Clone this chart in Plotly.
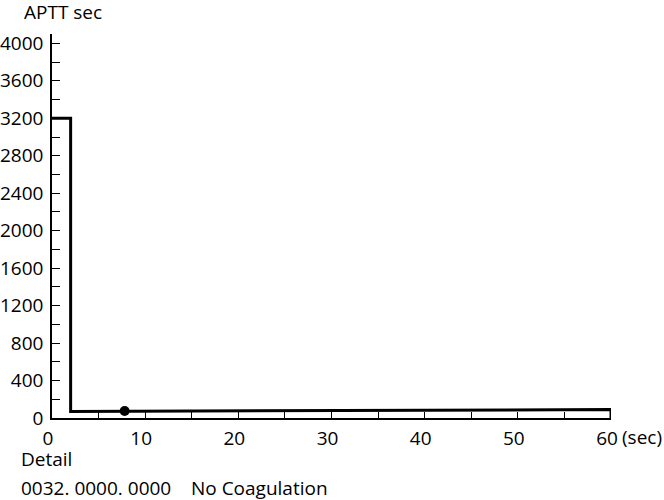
import plotly.graph_objects as go

FONT = "Open Sans, Noto Sans, sans-serif"

# curve (time in sec, APTT value)
curve_t = [0, 2, 2, 60, 60]
curve_v = [3200, 3200, 70, 90, 0]

point_t = [7.8]
point_v = [75]

y_ticks = [0, 400, 800, 1200, 1600, 2000, 2400, 2800, 3200, 3600, 4000]
x_ticks = [0, 10, 20, 30, 40, 50, 60]

W, H = 664, 500
L, R, T, B = 52, 53, 34, 82

fig = go.Figure()
fig.add_trace(
    go.Scatter(
        x=curve_t,
        y=curve_v,
        mode="lines",
        line={"color": "black", "width": 3},
        cliponaxis=False,
        hoverinfo="skip",
    )
)
fig.add_trace(
    go.Scatter(
        x=point_t,
        y=point_v,
        mode="markers",
        marker={"color": "black", "size": 10},
        cliponaxis=False,
    )
)

fig.update_layout(
    width=W,
    height=H,
    paper_bgcolor="white",
    plot_bgcolor="white",
    showlegend=False,
    font={"family": FONT, "size": 19, "color": "black"},
    margin={"l": L, "r": R, "t": T, "b": B, "autoexpand": False},
)
fig.update_xaxes(
    range=[0, 60],
    tickvals=x_ticks,
    ticks="inside",
    ticklen=6,
    tickwidth=1.3,
    tickcolor="black",
    minor={"dtick": 5, "ticks": "inside", "ticklen": 6, "tickwidth": 1.3, "tickcolor": "black"},
    showline=True,
    linecolor="black",
    linewidth=1.5,
    showgrid=False,
    zeroline=False,
    automargin=False,
    ticklabelstandoff=2,
    ticklabelshift=-4,
)
fig.update_yaxes(
    range=[0, 4100],
    tickvals=y_ticks,
    ticks="inside",
    ticklen=8,
    tickwidth=1.3,
    tickcolor="black",
    minor={"dtick": 200, "ticks": "inside", "ticklen": 8, "tickwidth": 1.3, "tickcolor": "black"},
    showline=True,
    linecolor="black",
    linewidth=1.5,
    showgrid=False,
    zeroline=False,
    automargin=False,
    ticklabelstandoff=3,
)


def px_to_paper(px_x, px_y):
    return (px_x - L) / (W - L - R), 1 - (px_y - T) / (H - T - B)


texts = [
    ("APTT sec", 22, 12),
    ("(sec)", 620, 437),
    ("Detail", 19, 459),
    ("0032. 0000. 0000    No Coagulation", 19, 488),
]
for txt, tx, ty in texts:
    ax, ay = px_to_paper(tx, ty)
    fig.add_annotation(text=txt, x=ax, y=ay, xref="paper", yref="paper", xanchor="left",
                       yanchor="middle", showarrow=False, font={"size": 19})

# the page body has a default 8px margin; drop it so the figure fills the window
fig.write_html("out.html", config={"displayModeBar": False},
               post_script="document.body.style.margin='0';")
